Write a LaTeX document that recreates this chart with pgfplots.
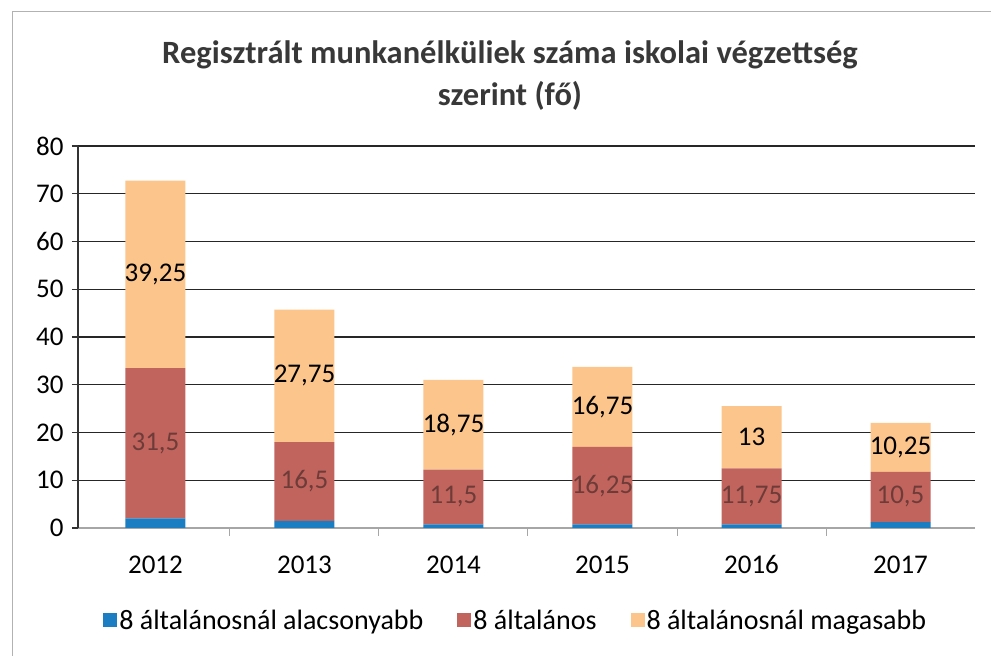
\documentclass[border=0pt]{standalone}
\usepackage{fontspec}
\setmainfont{Carlito}
\usepackage{pgfplots}
\usepackage{pgfplotstable}
\pgfplotsset{compat=1.18}

\definecolor{cblue}{HTML}{1C7EC2}
\definecolor{cred}{HTML}{C2645E}
\definecolor{corange}{HTML}{FBC58C}
\definecolor{redlbl}{HTML}{6E3C38}

\newcommand{\lblfont}{\fontsize{27}{31}\selectfont}

% unemployed by education, per year (stacked)
\pgfplotstableread{
x year low mid high
0 2012 2    31.5  39.25
1 2013 1.5  16.5  27.75
2 2014 0.75 11.5  18.75
3 2015 0.75 16.25 16.75
4 2016 0.75 11.75 13
5 2017 1.25 10.5  10.25
}\data

\begin{document}
\begin{tikzpicture}[x=1pt,y=1pt]
\path[use as bounding box] (0,0) rectangle (991,656);
\draw[gray!60, line width=1pt] (12,0) -- (12,644) -- (991,644);

\node[font=\fontsize{32.5}{42}\selectfont\bfseries, text=black!78, align=center]
  at (510,580) {Regisztrált munkanélküliek száma iskolai végzettség\\szerint (fő)};

\begin{axis}[
  at={(78pt,128pt)}, anchor=south west,
  scale only axis, width=897pt, height=382pt,
  ybar stacked, bar width=60pt,
  xmin=-0.52, xmax=5.5, ymin=0, ymax=80,
  xtick={0,...,5},
  xticklabels={2012,2013,2014,2015,2016,2017},
  minor xtick={0.5,1.5,2.5,3.5,4.5},
  ytick={0,10,...,80},
  axis x line*=bottom, axis y line*=left,
  x axis line style={gray!70, line width=1.2pt},
  y axis line style={black!80, line width=1.4pt},
  ymajorgrids,
  grid style={black!85, line width=1.3pt},
  tick align=outside,
  major tick length=6pt, minor tick length=8pt,
  major x tick style={draw=none},
  minor x tick style={gray!70, line width=1pt},
  major y tick style={black!80, line width=1.2pt},
  tick label style={font=\lblfont, text=black},
  xticklabel style={yshift=-18pt},
  yticklabel style={xshift=-5pt},
  /pgf/number format/assume math mode=true,
  legend columns=3,
  legend style={at={(0.488,-0.241)}, anchor=center, draw=none, fill=none,
    font=\fontsize{28}{32}\selectfont, text=black,
    /tikz/every even column/.append style={column sep=32pt}},
  legend image code/.code={\fill[#1] (0pt,-7pt) rectangle (14pt,7pt);},
  /pgf/number format/use comma,
  /pgf/number format/1000 sep={},
]

\addplot[fill=cblue, draw=none] table[x=x, y=low] {\data};
\addlegendentry{8 általánosnál alacsonyabb}

% labels sit in the middle of each segment
\addplot[fill=cred, draw=none,
  nodes near coords, point meta=explicit,
  every node near coord/.append style={anchor=center, font=\lblfont, text=redlbl}]
  table[x=x, y=mid, meta=mid] {\data};
\addlegendentry{8 általános}

\addplot[fill=corange, draw=none,
  nodes near coords, point meta=explicit,
  every node near coord/.append style={anchor=center, font=\lblfont, text=black}]
  table[x=x, y=high, meta=high] {\data};
\addlegendentry{8 általánosnál magasabb}

\end{axis}
\end{tikzpicture}
\end{document}
